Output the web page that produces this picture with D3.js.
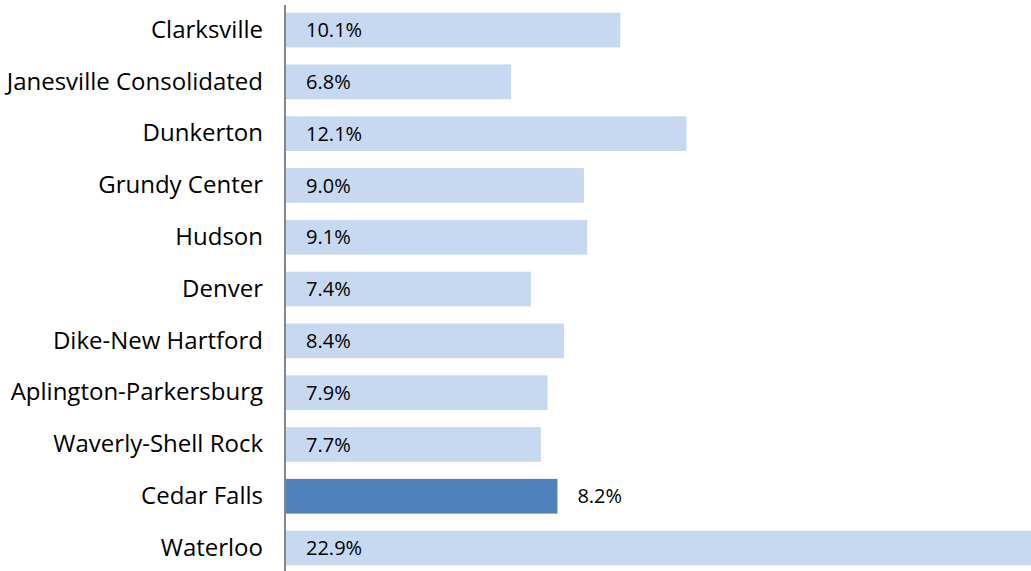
<!DOCTYPE html>
<html><head><meta charset="utf-8">
<script src="https://cdn.jsdelivr.net/npm/d3@7"></script>
<style>body{margin:0;background:#fff;overflow:hidden}</style>
</head><body>
<svg id="c" width="1031" height="571"></svg>
<script>
const categories = ["Clarksville","Janesville Consolidated","Dunkerton","Grundy Center","Hudson","Denver","Dike-New Hartford","Aplington-Parkersburg","Waverly-Shell Rock","Cedar Falls","Waterloo"];
const values = [10.1, 6.8, 12.1, 9.0, 9.1, 7.4, 8.4, 7.9, 7.7, 8.2, 22.9];
const highlight = ["Cedar Falls"];

const svg = d3.select("#c");
const x0 = 286;
const x = d3.scaleLinear().domain([0, 22.9]).range([x0, x0 + 22.9 * 33.1]);
const y = d3.scaleBand().domain(categories).range([4.15, 573.95]).paddingInner(0.33).paddingOuter(0.165);

svg.selectAll("rect.bar").data(categories).join("rect")
  .attr("x", x(0))
  .attr("y", d => y(d))
  .attr("width", (d,i) => x(values[i]) - x(0))
  .attr("height", y.bandwidth())
  .attr("fill", d => highlight.includes(d) ? "#4F81BD" : "#C6D9F1");

svg.selectAll("text.val").data(categories).join("text")
  .attr("x", (d,i) => highlight.includes(d) ? x(values[i]) + 20 : x(0) + 20)
  .attr("y", d => y(d) + y.bandwidth()/2)
  .attr("dy", "0.36em")
  .attr("font-family", "'Open Sans', sans-serif")
  .attr("font-size", 20)
  .attr("fill", "#000")
  .text((d,i) => values[i].toFixed(1) + "%");

const axis = d3.axisLeft(y).tickSize(0).tickPadding(22);
const g = svg.append("g").attr("transform", `translate(${x0 - 1},0)`).call(axis);
g.select(".domain").attr("stroke", "#868686").attr("stroke-width", 2).attr("d", "M0,5V571");
g.selectAll("text").attr("font-family", "'Open Sans', sans-serif").attr("font-size", 24).attr("fill", "#000");
</script>
</body></html>
